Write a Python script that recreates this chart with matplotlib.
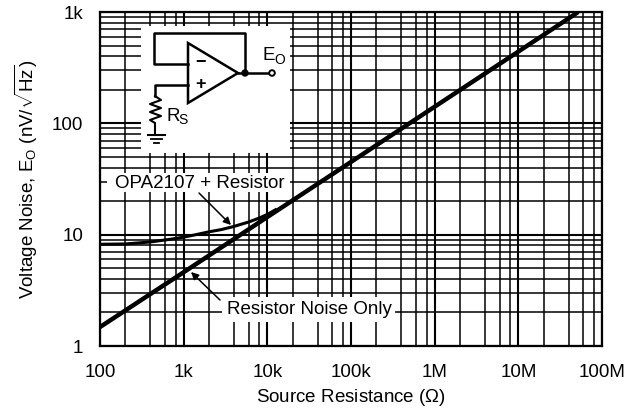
"""Voltage noise vs source resistance, OPA2107 + resistor, with inset circuit."""
import matplotlib
matplotlib.use("Agg")
import matplotlib.pyplot as plt
from matplotlib.patches import Rectangle, Polygon, Circle
from matplotlib.ticker import FixedLocator, NullFormatter

plt.rcParams["font.family"] = ["Liberation Sans", "DejaVu Sans"]
plt.rcParams["mathtext.fontset"] = "custom"
plt.rcParams["mathtext.rm"] = "Liberation Sans"
plt.rcParams["mathtext.it"] = "Liberation Sans"
plt.rcParams["mathtext.bf"] = "Liberation Sans:bold"

# --- data ------------------------------------------------------------------
res_r = [100, 1e3, 1e4, 1e5, 1e6, 1e7, 5.2e7]
res_noise = [1.48, 4.6, 14.4, 45, 141, 441, 1000]

opa_r = [100, 200, 400, 700, 1e3, 1.4e3, 2e3, 2.8e3, 3.9e3, 6e3, 8e3, 1e4, 1.3e4]
opa_noise = [8.2, 8.25, 8.6, 9.1, 9.5, 10.0, 10.6, 11.1, 11.8, 13.0, 14.1, 15.2, 17.0]

x_ticks = [100, 1e3, 1e4, 1e5, 1e6, 1e7, 1e8]
x_labels = ["100", "1k", "10k", "100k", "1M", "10M", "100M"]
y_ticks = [1, 10, 100, 1000]
y_labels = ["1", "10", "100", "1k"]

W, H = 633, 411
L, R, T, B = 100, 602, 12, 346
FS = 13.5

fig = plt.figure(figsize=(W / 100, H / 100), dpi=100)
ax = fig.add_axes([L / W, 1 - B / H, (R - L) / W, (B - T) / H])
ax.set_xscale("log")
ax.set_yscale("log")
ax.set_xlim(100, 1e8)
ax.set_ylim(1, 1000)

x_minor = [m * 10**d for d in range(2, 8) for m in (2, 4, 6, 8)]
y_minor = [m * 10**d for d in range(0, 3) for m in range(2, 10)]
ax.xaxis.set_minor_locator(FixedLocator(x_minor))
ax.yaxis.set_minor_locator(FixedLocator(y_minor))
ax.xaxis.set_minor_formatter(NullFormatter())
ax.yaxis.set_minor_formatter(NullFormatter())
ax.set_xticks(x_ticks, x_labels)
ax.set_yticks(y_ticks, y_labels)
ax.tick_params(which="both", length=0)
ax.tick_params(axis="x", labelsize=FS, pad=13)
ax.tick_params(axis="y", labelsize=FS, pad=12)
ax.grid(which="major", color="k", lw=1.5)
ax.grid(which="minor", color="k", lw=1.1)
ax.set_axisbelow(True)
for s in ax.spines.values():
    s.set_linewidth(1.6)

ax.plot(res_r, res_noise, color="k", lw=3.2, zorder=5, solid_capstyle="butt")
ax.plot(opa_r, opa_noise, color="k", lw=2.2, zorder=5, solid_capstyle="butt")

ax.set_xlabel("Source Resistance ($\\Omega$)", fontsize=FS, labelpad=4)
ax.set_ylabel("Voltage Noise, E$_{\\mathrm{O}}$ (nV/$\\sqrt{\\mathrm{Hz}}$)",
              fontsize=FS)
ax.yaxis.set_label_coords((40 - L) / (R - L), 0.5)

# overlay in picture pixels for the circuit and call-outs
ov = fig.add_axes([0, 0, 1, 1], facecolor="none")
ov.set_xlim(0, W)
ov.set_ylim(H, 0)
ov.axis("off")

ov.add_patch(Rectangle((141, 26), 149, 127, fc="w", ec="none"))
ov.add_patch(Rectangle((107, 173), 183, 19, fc="w", ec="none"))
ov.add_patch(Rectangle((222, 297), 173, 25, fc="w", ec="none"))

ov.text(115, 183, "OPA2107 + Resistor", fontsize=FS, va="center", ha="left")
ov.text(227, 309, "Resistor Noise Only", fontsize=FS, va="center", ha="left")

arrow = dict(arrowstyle="-|>", color="k", lw=1.1, mutation_scale=11, shrinkA=0, shrinkB=0)
ov.annotate("", xy=(231, 225), xytext=(199, 193), arrowprops=arrow)
ov.annotate("", xy=(191, 272), xytext=(220, 300), arrowprops=arrow)

# op amp symbol
lw = 1.8
ov.add_patch(Polygon([(188, 43), (188, 103), (238, 73)], closed=True, fc="w", ec="k", lw=lw))
ov.plot([188, 154, 154, 245, 245], [64, 64, 33, 33, 73], color="k", lw=lw)
ov.plot([238, 270], [73, 73], color="k", lw=lw)
ov.add_patch(Circle((245, 73), 3, fc="k", ec="k"))
ov.add_patch(Circle((272, 73), 2.8, fc="w", ec="k", lw=1.4, zorder=4))
ov.plot([188, 155, 155], [85, 85, 96], color="k", lw=lw)
ov.plot([155, 161, 150, 161, 150, 161, 150, 155, 155],
        [96, 100, 104, 108, 112, 116, 120, 123, 134], color="k", lw=1.5)
ov.plot([148, 165], [135, 135], color="k", lw=1.5)
ov.plot([151, 162], [139, 139], color="k", lw=1.3)
ov.plot([154, 159], [143, 143], color="k", lw=1.3)
ov.text(200, 63, "\u2212", fontsize=13, ha="center", va="center", fontweight="bold")
ov.text(200, 84, "+", fontsize=13, ha="center", va="center", fontweight="bold")
ov.text(262, 55, "E", fontsize=FS, ha="left", va="center")
ov.text(274, 60, "O", fontsize=10, ha="left", va="center")
ov.text(166, 116, "R", fontsize=FS, ha="left", va="center")
ov.text(178, 120, "S", fontsize=10, ha="left", va="center")

fig.savefig("out.png", dpi=100)
